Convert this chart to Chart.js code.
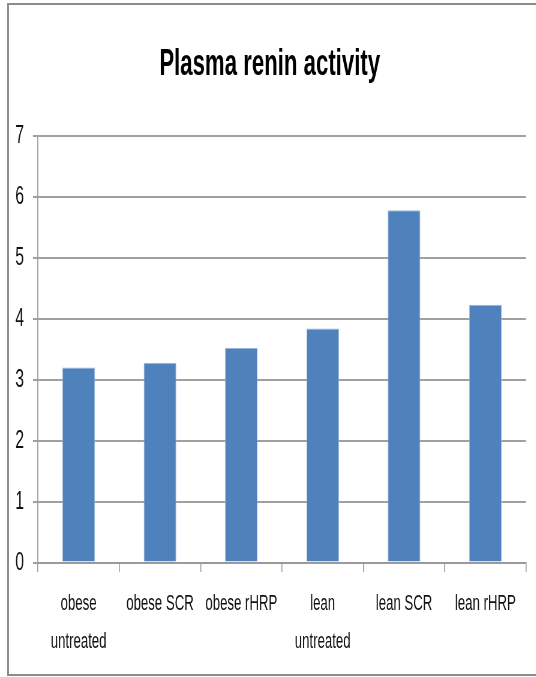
<!DOCTYPE html>
<html><head><meta charset="utf-8">
<script src="https://cdn.jsdelivr.net/npm/chart.js@4"></script>
<style>
html,body{margin:0;padding:0;background:#fff;overflow:hidden;width:536px;height:677px}
#frame{position:absolute;left:7px;top:3px;width:600px;height:673px;border:2px solid #8c8c8c;box-sizing:border-box}
#wrap{position:absolute;left:0;top:0;width:894px;height:677px;transform:scaleX(0.6);transform-origin:0 0}
canvas{display:block}
</style></head><body>
<div id="frame"></div>
<div id="wrap"><canvas id="c" width="894" height="677"></canvas></div>
<script>
const categories = [["obese","untreated"],"obese SCR","obese rHRP",["lean","untreated"],"lean SCR","lean rHRP"];
const renin = [3.2,3.28,3.52,3.84,5.78,4.23];
const yMin = 0, yMax = 7, yStep = 1;
const titleText = "Plasma renin activity";
const FONT = "'Liberation Sans',Arial,sans-serif";
new Chart(document.getElementById('c'), {
 type:'bar',
 data:{labels:categories,datasets:[{data:renin, backgroundColor:'#4f81bd', borderColor:'#9bb5da', borderWidth:1, barPercentage:0.4, categoryPercentage:1}]},
 options:{responsive:false, animation:false, devicePixelRatio:1,
  layout:{padding:{left:22.2,right:17.3,top:0,bottom:16}},
  plugins:{legend:{display:false},tooltip:{enabled:false},
   title:{display:true,text:titleText,color:'#000',font:{family:FONT,size:37,weight:'bold',lineHeight:1.2},padding:{top:43,bottom:48.6}}},
  scales:{
   x:{grid:{display:true,drawOnChartArea:false,drawTicks:true,tickLength:9.5,color:'#9a9a9a',lineWidth:1.6,offset:true},
      border:{display:true,color:'#9a9a9a',width:2},
      ticks:{color:'#111',font:{family:FONT,size:22,lineHeight:38/22},padding:12.6,maxRotation:0,autoSkip:false},
      afterFit(s){s.height=98.4;}},
   y:{min:yMin,max:yMax,grid:{color:'#a0a0a0',lineWidth:2,tickLength:8.3},
      border:{display:true,color:'#a0a0a0',width:1.8},
      ticks:{stepSize:yStep,color:'#111',font:{family:FONT,size:26},padding:15},
      afterFit(s){s.width=41.1;}}
  }}
});
</script></body></html>
